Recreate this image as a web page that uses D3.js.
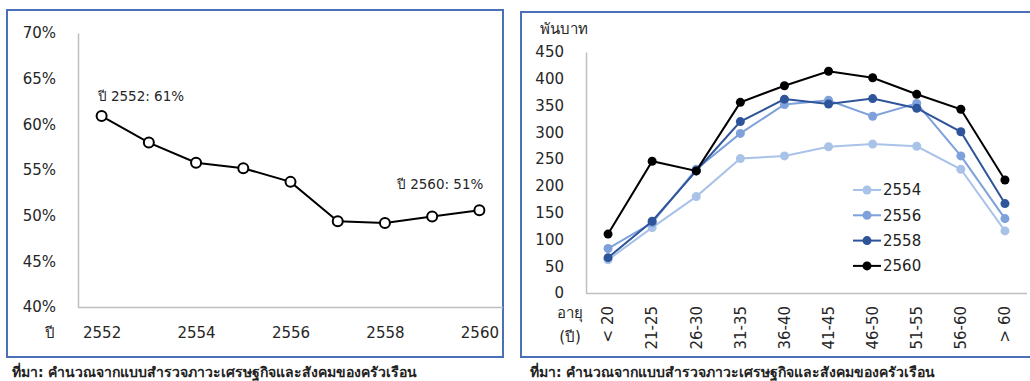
<!DOCTYPE html>
<html>
<head>
<meta charset="utf-8">
<script src="https://cdn.jsdelivr.net/npm/d3@7"></script>
<style>
  html, body { margin: 0; padding: 0; background: #fff; }
  svg { display: block; font-family: "DejaVu Sans", Tahoma, sans-serif; }
</style>
</head>
<body>
<svg id="chart" width="1030" height="381"></svg>
<script>
// Left panel: share (%) by year
const years = ["2552", "2553", "2554", "2555", "2556", "2557", "2558", "2559", "2560"];
const shareValues = [60.9, 58.0, 55.8, 55.2, 53.7, 49.4, 49.2, 49.9, 50.6];
const yearTickLabels = ["2552", "2554", "2556", "2558", "2560"];
const shareTicks = [40, 45, 50, 55, 60, 65, 70];

// Right panel: amount (thousand baht) by age group and survey year
const ageGroups = ["< 20", "21-25", "26-30", "31-35", "36-40", "41-45", "46-50", "51-55", "56-60", "> 60"];
const seriesNames = ["2554", "2556", "2558", "2560"];
const values2554 = [62, 122, 180, 251, 256, 273, 278, 274, 231, 116];
const values2556 = [83, 131, 231, 298, 352, 360, 330, 354, 256, 139];
const values2558 = [66, 134, 228, 320, 362, 353, 363, 345, 301, 167];
const values2560 = [110, 246, 228, 356, 387, 414, 402, 371, 343, 211];
const amountTicks = [0, 50, 100, 150, 200, 250, 300, 350, 400, 450];
const seriesColors = ["#a9c3e8", "#7ea1db", "#2e5499", "#000000"];

const sourceText = "ที่มา: คำนวณจากแบบสำรวจภาวะเศรษฐกิจและสังคมของครัวเรือน";

const svg = d3.select("#chart");
const axisGrey = "#bfbfbf";
const textColor = "#262626";
const frameColor = "#4a70b8";

// ---------- left panel ----------
const L = svg.append("g");
L.append("rect").attr("x", 7).attr("y", 10).attr("width", 496).attr("height", 347)
  .attr("fill", "none").attr("stroke", frameColor).attr("stroke-width", 2);

const xL = d3.scalePoint().domain(years).range([78, 503]).padding(0.5);
const yL = d3.scaleLinear().domain([40, 70]).range([307, 33]);

const yAxisL = L.append("g").attr("transform", "translate(78,0)")
  .call(d3.axisLeft(yL).tickValues(shareTicks).tickSize(0).tickPadding(22)
    .tickFormat(d => d + "%"));
yAxisL.select(".domain").attr("stroke", axisGrey).attr("stroke-width", 1.5);
yAxisL.selectAll("text").attr("font-size", 15).attr("fill", textColor)
  .attr("font-family", "DejaVu Sans, sans-serif");

const xAxisL = L.append("g").attr("transform", "translate(0,307)")
  .call(d3.axisBottom(xL).tickValues(yearTickLabels).tickSize(0).tickPadding(20));
xAxisL.select(".domain").attr("stroke", axisGrey).attr("stroke-width", 1.5)
  .attr("d", "M78,0.5H503");
xAxisL.selectAll("text").attr("font-size", 15).attr("fill", textColor)
  .attr("font-family", "DejaVu Sans, sans-serif");

L.append("text").attr("x", 50).attr("y", 333).attr("dy", "0.35em")
  .attr("text-anchor", "middle").attr("font-size", 15).attr("fill", textColor).text("ปี");

const shareData = years.map((y, i) => ({ year: y, v: shareValues[i] }));
L.append("path").datum(shareData)
  .attr("fill", "none").attr("stroke", "#000").attr("stroke-width", 2)
  .attr("d", d3.line().x(d => xL(d.year)).y(d => yL(d.v)));
L.selectAll("circle.pt").data(shareData).join("circle")
  .attr("class", "pt")
  .attr("cx", d => xL(d.year)).attr("cy", d => yL(d.v)).attr("r", 5)
  .attr("fill", "#fff").attr("stroke", "#000").attr("stroke-width", 2);

// annotations for first and last years
const firstPt = shareData[0], lastPt = shareData[shareData.length - 1];
L.append("text").attr("x", xL(firstPt.year) - 4).attr("y", yL(firstPt.v) - 15)
  .attr("font-size", 13.5).attr("fill", textColor)
  .text(`ปี ${firstPt.year}: ${Math.round(firstPt.v)}%`);
L.append("text").attr("x", xL(lastPt.year) + 4).attr("y", yL(lastPt.v) - 21)
  .attr("text-anchor", "end").attr("font-size", 13.5).attr("fill", textColor)
  .text(`ปี ${lastPt.year}: ${Math.round(lastPt.v)}%`);

svg.append("text").attr("x", 12).attr("y", 377).attr("font-size", 14)
  .attr("font-weight", "bold").attr("fill", "#222").text(sourceText);

// ---------- right panel ----------
const R = svg.append("g");
R.append("path").attr("d", "M1032,12H521V357H1032")
  .attr("fill", "none").attr("stroke", frameColor).attr("stroke-width", 2);

const xR = d3.scaleBand().domain(ageGroups).range([586, 1027]).padding(0);
const yR = d3.scaleLinear().domain([0, 450]).range([293, 52]);

const yAxisR = R.append("g").attr("transform", "translate(586,0)")
  .call(d3.axisLeft(yR).tickValues(amountTicks).tickSize(0).tickPadding(22));
yAxisR.select(".domain").attr("stroke", axisGrey).attr("stroke-width", 1.5);
yAxisR.selectAll("text").attr("font-size", 15).attr("fill", textColor)
  .attr("font-family", "DejaVu Sans, sans-serif");

const xAxisR = R.append("g").attr("transform", "translate(0,293)")
  .call(d3.axisBottom(xR).tickSize(0).tickPadding(0));
xAxisR.select(".domain").attr("stroke", axisGrey).attr("stroke-width", 1.5)
  .attr("d", "M586,0.5H1027");
xAxisR.selectAll("text")
  .attr("font-size", 15).attr("fill", textColor)
  .attr("font-family", "DejaVu Sans, sans-serif")
  .attr("text-anchor", "end")
  .attr("transform", "translate(0,13) rotate(-90)")
  .attr("x", 0).attr("y", 0).attr("dy", "0.35em");

R.append("text").attr("x", 540).attr("y", 29).attr("dy", "0.35em")
  .attr("font-size", 15).attr("fill", textColor).text("พันบาท");
R.append("text").attr("x", 570).attr("y", 313).attr("dy", "0.35em")
  .attr("text-anchor", "middle").attr("font-size", 15).attr("fill", textColor).text("อายุ");
R.append("text").attr("x", 570).attr("y", 337).attr("dy", "0.35em")
  .attr("text-anchor", "middle").attr("font-size", 15).attr("fill", textColor).text("(ปี)");

const seriesValues = [values2554, values2556, values2558, values2560];
const series = seriesNames.map((name, i) => ({
  name, color: seriesColors[i],
  pts: ageGroups.map((g, j) => ({ g, v: seriesValues[i][j] }))
}));
const cx = g => xR(g) + xR.bandwidth() / 2;

series.forEach(s => {
  const g = R.append("g");
  g.append("path").datum(s.pts)
    .attr("fill", "none").attr("stroke", s.color).attr("stroke-width", 2)
    .attr("d", d3.line().x(d => cx(d.g)).y(d => yR(d.v)));
  g.selectAll("circle").data(s.pts).join("circle")
    .attr("cx", d => cx(d.g)).attr("cy", d => yR(d.v)).attr("r", 4.5)
    .attr("fill", s.color);
});

// legend
const legend = R.append("g");
series.forEach((s, i) => {
  const ly = 190 + i * 25.3;
  legend.append("line").attr("x1", 853).attr("x2", 881).attr("y1", ly).attr("y2", ly)
    .attr("stroke", s.color).attr("stroke-width", 2);
  legend.append("circle").attr("cx", 867).attr("cy", ly).attr("r", 4.5).attr("fill", s.color);
  legend.append("text").attr("x", 883).attr("y", ly).attr("dy", "0.35em")
    .attr("font-size", 15).attr("fill", "#222").text(s.name);
});

svg.append("text").attr("x", 530).attr("y", 377).attr("font-size", 14)
  .attr("font-weight", "bold").attr("fill", "#222").text(sourceText);
</script>
</body>
</html>
